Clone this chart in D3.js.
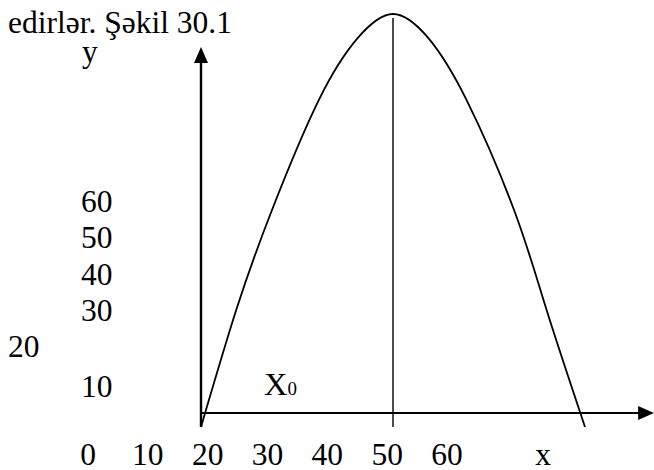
<!DOCTYPE html>
<html>
<head>
<meta charset="utf-8">
<script src="https://cdn.jsdelivr.net/npm/d3@7/dist/d3.min.js"></script>
<style>
  html, body { margin: 0; padding: 0; background: #fff; }
  svg { display: block; }
  text { font-family: "Liberation Serif", "Times New Roman", serif; fill: #000; }
</style>
</head>
<body>
<svg id="chart" width="654" height="470"></svg>
<script>
// ---- data ----
const titleText = "edirlər. Şəkil 30.1";
const curveX = [20, 25.5, 31, 38.4, 44.5, 50, 55.5, 61.5, 69, 74, 80];
const curveY = [-3.5, 25.8, 50.5, 78.4, 94, 100, 94, 78.4, 50.5, 25.8, -3.5];
const vertexX = 50;
const vertexLineY = [-3.5, 99];
const xAxisRange = [20, 90.8];
const yAxisRange = [-3.5, 91.7];
const xTickLabels = ["0", "10", "20", "30", "40", "50", "60"];
const yTickLabels = ["60", "50", "40", "30", "20"];
const yLowLabel = "10";
const xAxisName = "x";
const yAxisName = "y";
const pointName = "X";
const pointSub = "0";

// ---- layout ----
const svg = d3.select("#chart");
const x = d3.scaleLinear().domain([20, 80]).range([201, 585]);
const y = d3.scaleLinear().domain([0, 100]).range([413, 14]);
const FS = 31.5;

// title
svg.append("text").attr("x", 8).attr("y", 33).attr("font-size", FS).text(titleText);

// axes
const arrowLen = 16, arrowHalf = 7;
// y axis
svg.append("line")
  .attr("x1", x(xAxisRange[0])).attr("x2", x(xAxisRange[0]))
  .attr("y1", y(yAxisRange[0])).attr("y2", y(yAxisRange[1]) + arrowLen - 1)
  .attr("stroke", "#000").attr("stroke-width", 2.4);
svg.append("path")
  .attr("d", (() => { const cx = x(xAxisRange[0]), ty = y(yAxisRange[1]);
    return `M${cx},${ty} L${cx - arrowHalf},${ty + arrowLen} L${cx + arrowHalf},${ty + arrowLen} Z`; })())
  .attr("fill", "#000");
// x axis
svg.append("line")
  .attr("x1", x(xAxisRange[0])).attr("x2", x(xAxisRange[1]) - arrowLen + 1)
  .attr("y1", y(0)).attr("y2", y(0))
  .attr("stroke", "#000").attr("stroke-width", 2.2);
svg.append("path")
  .attr("d", (() => { const tx = x(xAxisRange[1]), cy = y(0);
    return `M${tx},${cy} L${tx - arrowLen},${cy - arrowHalf} L${tx - arrowLen},${cy + arrowHalf} Z`; })())
  .attr("fill", "#000");

// vertex line
svg.append("line")
  .attr("x1", x(vertexX)).attr("x2", x(vertexX))
  .attr("y1", y(vertexLineY[0])).attr("y2", y(vertexLineY[1]))
  .attr("stroke", "#000").attr("stroke-width", 1.4);

// curve
const pts = curveX.map((d, i) => [d, curveY[i]]);
svg.append("path")
  .attr("d", d3.line().x(d => x(d[0])).y(d => y(d[1])).curve(d3.curveNatural)(pts))
  .attr("fill", "none").attr("stroke", "#000").attr("stroke-width", 1.8);

// x tick labels (typed text row)
const xl = d3.scalePoint().domain(xTickLabels).range([88, 447]);
svg.selectAll("text.xl").data(xTickLabels).enter().append("text")
  .attr("class", "xl").attr("x", d => xl(d)).attr("y", 465)
  .attr("text-anchor", "middle").attr("font-size", FS).text(d => d);
svg.append("text").attr("x", 543).attr("y", 465).attr("text-anchor", "middle")
  .attr("font-size", FS).text(xAxisName);

// y tick labels (typed text column)
const yl = d3.scalePoint().domain(yTickLabels).range([212, 357]);
svg.selectAll("text.yl").data(yTickLabels).enter().append("text")
  .attr("class", "yl").attr("x", d => d === "20" ? 8 : 81).attr("y", d => yl(d))
  .attr("font-size", FS).text(d => d);
svg.append("text").attr("x", 81).attr("y", 397).attr("font-size", FS).text(yLowLabel);
svg.append("text").attr("x", 82).attr("y", 62).attr("font-size", FS).text(yAxisName);

// X0
const t = svg.append("text").attr("x", 264).attr("y", 395).attr("font-size", FS + 1);
t.append("tspan").text(pointName);
t.append("tspan").attr("font-size", 19).text(pointSub);
</script>
</body>
</html>
